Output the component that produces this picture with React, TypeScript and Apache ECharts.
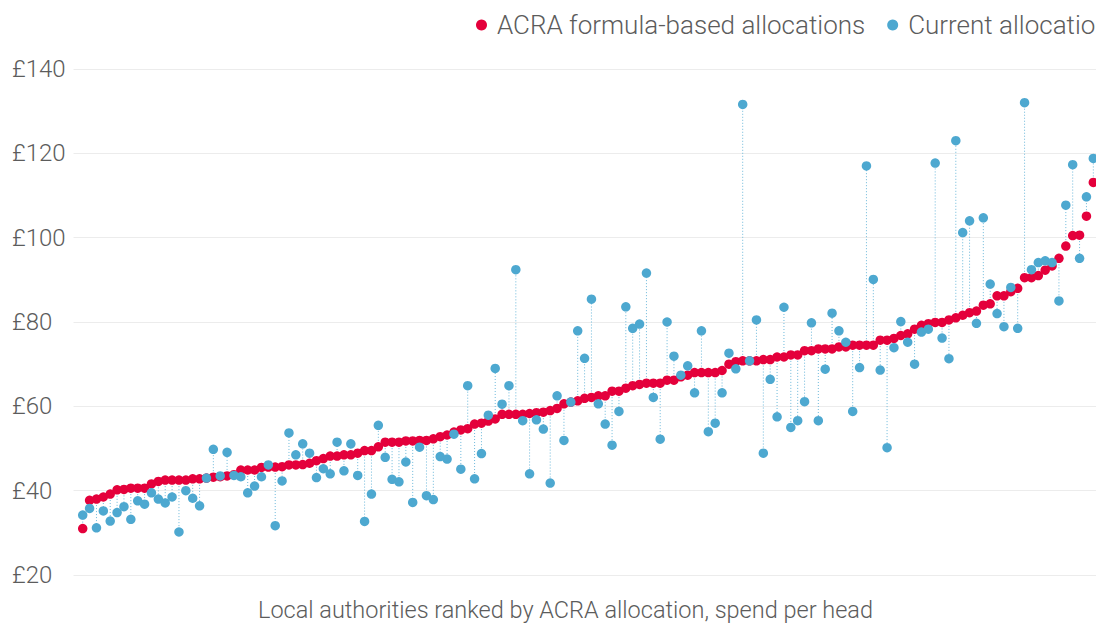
import React, { useEffect, useRef } from "react";
import * as echarts from "echarts";

// ACRA formula-based allocation, spend per head (£), ranked
const acra = [
  31.0, 37.7, 38.0, 38.5, 39.2, 40.2, 40.3, 40.6, 40.6, 40.6,
  41.6, 42.2, 42.5, 42.5, 42.5, 42.5, 42.8, 42.8, 43.0, 43.2,
  43.3, 43.5, 43.8, 44.9, 44.9, 44.9, 45.5, 45.6, 45.6, 45.7,
  46.1, 46.1, 46.2, 46.5, 47.1, 47.6, 48.2, 48.2, 48.5, 48.5,
  48.9, 49.5, 49.5, 50.4, 51.5, 51.5, 51.5, 51.8, 51.8, 51.9,
  51.9, 52.3, 52.8, 53.2, 53.9, 54.4, 54.7, 55.8, 56.0, 56.5,
  57.0, 58.1, 58.1, 58.1, 58.1, 58.3, 58.5, 58.6, 59.0, 59.5,
  60.6, 61.0, 61.3, 61.9, 62.1, 62.5, 62.5, 63.6, 63.6, 64.3,
  64.9, 65.2, 65.5, 65.5, 65.5, 66.2, 66.2, 67.0, 67.4, 68.0,
  68.0, 68.0, 68.0, 68.5, 70.0, 70.6, 70.8, 70.8, 70.8, 71.1,
  71.1, 71.7, 71.7, 72.2, 72.2, 73.2, 73.2, 73.6, 73.6, 73.6,
  74.1, 74.1, 74.5, 74.5, 74.5, 74.5, 75.7, 75.7, 76.1, 76.8,
  77.2, 78.3, 79.2, 79.6, 79.9, 79.9, 80.5, 81.0, 81.6, 82.2,
  82.6, 84.0, 84.3, 86.2, 86.2, 87.2, 88.0, 90.5, 90.5, 91.0,
  92.3, 93.3, 95.1, 98.0, 100.5, 100.6, 105.1, 113.1,
];

// Current allocation, spend per head (£), same authorities
const current = [
  34.2, 35.8, 31.2, 35.2, 32.8, 34.8, 36.2, 33.2, 37.6, 36.8,
  39.5, 38.0, 37.1, 38.5, 30.2, 40.0, 38.2, 36.4, 43.0, 49.8,
  43.5, 49.1, 43.6, 43.3, 39.5, 41.1, 43.3, 46.1, 31.7, 42.3,
  53.7, 48.5, 51.1, 48.9, 43.1, 45.2, 44.0, 51.5, 44.7, 51.1,
  43.6, 32.7, 39.2, 55.5, 47.9, 42.7, 42.1, 46.8, 37.2, 50.3,
  38.8, 37.9, 48.1, 47.5, 53.4, 45.1, 64.9, 42.8, 48.8, 57.9,
  69.0, 60.5, 64.9, 92.4, 56.6, 44.0, 56.8, 54.6, 41.8, 62.5,
  51.9, 61.0, 77.9, 71.4, 85.4, 60.6, 55.8, 50.8, 58.8, 83.6,
  78.5, 79.5, 91.6, 62.1, 52.2, 80.0, 71.9, 67.4, 69.6, 63.2,
  77.9, 54.0, 56.0, 63.2, 72.6, 68.9, 131.6, 70.8, 80.5, 48.9,
  66.4, 57.5, 83.5, 55.0, 56.6, 61.1, 79.8, 56.6, 68.8, 82.1,
  77.9, 75.2, 58.8, 69.2, 117.0, 90.1, 68.6, 50.2, 73.9, 80.1,
  75.2, 70.0, 77.6, 78.3, 117.7, 76.2, 71.3, 123.0, 101.2, 104.0,
  79.7, 104.7, 89.0, 82.0, 78.9, 88.2, 78.5, 132.0, 92.4, 94.1,
  94.5, 94.1, 85.0, 107.7, 117.3, 95.1, 109.7, 118.8,
];

const yTicks = [20, 40, 60, 80, 100, 120, 140];
const seriesNames = ["ACRA formula-based allocations", "Current allocation"];
const xTitle = "Local authorities ranked by ACRA allocation, spend per head";

const RED = "#e4003b";
const BLUE = "#4da8d0";
const LINK = "#6cb8da";
const TEXT = "#5c5c5c";
const FONT = "Roboto, 'Liberation Sans', Arial, sans-serif";

export default function App() {
  const ref = useRef<HTMLDivElement>(null);

  useEffect(() => {
    if (!ref.current) return;
    const chart = echarts.init(ref.current, null, { renderer: "svg" });
    const ranks = acra.map((_, i) => i);

    chart.setOption({
      animation: false,
      backgroundColor: "#ffffff",
      textStyle: { fontFamily: FONT },
      legend: {
        data: seriesNames,
        left: 471,
        top: 7,
        width: 1000,
        icon: "circle",
        itemWidth: 11,
        itemHeight: 11,
        itemGap: 22,
        textStyle: {
          fontSize: 26,
          fontWeight: 300,
          color: TEXT,
          fontFamily: FONT,
          padding: [0, 0, 0, 5],
        },
      },
      grid: { left: 73.5, right: 0, top: 69, bottom: 48 },
      xAxis: {
        type: "value",
        min: -1.34,
        max: 147.39,
        show: false,
        splitLine: { show: false },
      },
      yAxis: {
        type: "value",
        min: yTicks[0],
        max: yTicks[yTicks.length - 1],
        interval: 20,
        axisLine: { show: false },
        axisTick: { show: false },
        splitLine: { lineStyle: { color: "#ececec", width: 1 } },
        axisLabel: {
          formatter: "£{value}",
          align: "left",
          margin: 61.5,
          fontSize: 24,
          fontWeight: 300,
          color: TEXT,
          fontFamily: FONT,
        },
      },
      series: [
        {
          type: "custom",
          name: "gap",
          silent: true,
          z: 1,
          encode: { x: 0, y: [1, 2] },
          data: ranks.map((i) => [i, acra[i], current[i]]),
          renderItem: (params: any, api: any) => {
            const a = api.coord([api.value(0), api.value(1)]);
            const b = api.coord([api.value(0), api.value(2)]);
            return {
              type: "line",
              shape: { x1: a[0], y1: a[1], x2: b[0], y2: b[1] },
              style: { stroke: LINK, lineWidth: 1, lineDash: [1, 2] },
            };
          },
        },
        {
          type: "scatter",
          name: seriesNames[0],
          z: 2,
          symbolSize: 9.5,
          itemStyle: { color: RED, opacity: 1 },
          data: ranks.map((i) => [i, acra[i]]),
        },
        {
          type: "scatter",
          name: seriesNames[1],
          z: 3,
          symbolSize: 9.5,
          itemStyle: { color: BLUE, opacity: 1 },
          data: ranks.map((i) => [i, current[i]]),
        },
      ],
      graphic: [
        {
          type: "text",
          x: 565.5,
          y: 610,
          style: {
            text: xTitle,
            textAlign: "center",
            textVerticalAlign: "middle",
            fontSize: 23.5,
            fontWeight: 300,
            fontFamily: FONT,
            fill: TEXT,
          },
        },
      ],
    });

    return () => chart.dispose();
  }, []);

  return (
    <div
      ref={ref}
      style={{
        position: "fixed",
        left: 0,
        top: 0,
        width: 1096,
        height: 623,
        background: "#fff",
      }}
    />
  );
}
